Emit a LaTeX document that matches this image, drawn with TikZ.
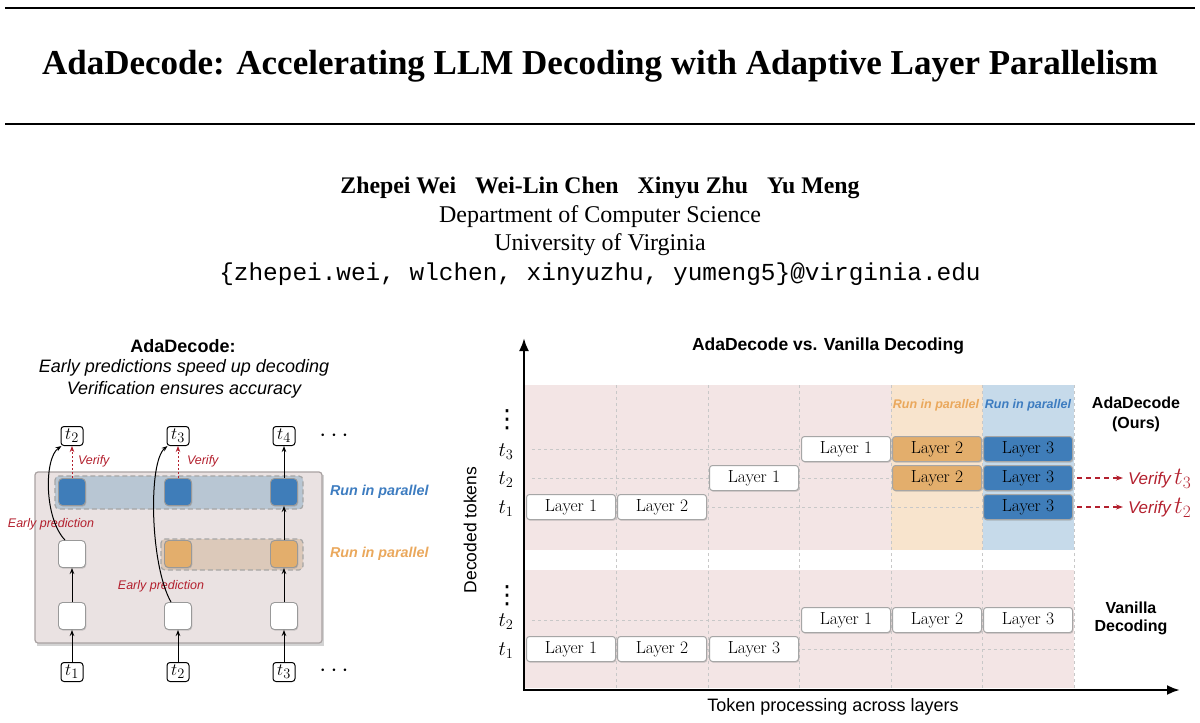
\documentclass[tikz,border=0pt]{standalone}
\usepackage{fontspec}
\newfontfamily\tnr{Liberation Serif}
\newfontfamily\arial{Liberation Sans}
\newfontfamily\cour{Liberation Mono}
\newfontfamily\djv{DejaVu Sans}
\usetikzlibrary{arrows.meta,shadows,calc}
\definecolor{pinkbg}{HTML}{F3E5E5}
\definecolor{orangebg}{HTML}{F8E4CD}
\definecolor{bluebg}{HTML}{C6DAEA}
\definecolor{bluebox}{HTML}{3F7DB9}
\definecolor{orangebox}{HTML}{E3AE6C}
\definecolor{redtxt}{HTML}{B3202E}
\definecolor{bluetxt}{HTML}{3D7CC0}
\definecolor{orangetxt}{HTML}{EAA85C}
\definecolor{panelbg}{HTML}{EAE2E2}
\definecolor{panelbd}{HTML}{A9A2A2}
\definecolor{blueband}{HTML}{B8C6D3}
\definecolor{orangeband}{HTML}{DCC9BA}
\definecolor{gridc}{HTML}{C8C8C8}
\newcommand{\fsz}[1]{\fontsize{#1}{#1}\selectfont}
\tikzset{
  txt/.style={inner sep=0pt, outer sep=0pt},
  tok/.style={draw=black, line width=1pt, rounded corners=3pt, fill=white, minimum width=22pt, minimum height=19pt, inner sep=0.5pt, font=\fsz{19}},
  sq/.style={draw=gray!80, line width=0.9pt, rounded corners=4pt, fill=white, minimum size=27pt, inner sep=0pt, drop shadow={shadow xshift=0.8pt, shadow yshift=-1.2pt, opacity=0.35, fill=gray}},
  lay/.style={draw=gray!70, line width=1pt, rounded corners=3pt, fill=white, minimum width=89pt, minimum height=25pt, inner sep=0pt, font=\fsz{17.5}, drop shadow={shadow xshift=0.8pt, shadow yshift=-1.2pt, opacity=0.35, fill=gray}},
  arr/.style={line width=1pt, -{Stealth[length=6pt,width=4.5pt]}},
  varr/.style={line width=1pt, redtxt, dash pattern=on 2pt off 2pt, -{Stealth[length=6pt,width=4.5pt]}},
  gridline/.style={draw=gridc, line width=0.9pt, dash pattern=on 2.5pt off 3.5pt},
  axis/.style={line width=2.5pt, -{Latex[length=13pt,width=10pt]}},
  vd/.style={inner sep=0pt, outer sep=0pt, font=\djv\fsz{25}},
}
\begin{document}
\begin{tikzpicture}[x=1pt,y=-1pt]
\useasboundingbox (0,0) rectangle (1200,723);
% header rules
\draw[line width=2pt] (5,8) -- (1195,8);
\draw[line width=2pt] (5,124) -- (1195,124);
\node[txt, font=\tnr\bfseries\fsz{35}] (title) at (600,66) {AdaDecode: Accelerating LLM Decoding with Adaptive Layer Parallelism};
\node[txt, font=\tnr\bfseries\fsz{23.8}] (authors) at (600,188) {Zhepei Wei\hspace{0.8em}Wei-Lin Chen\hspace{0.8em}Xinyu Zhu\hspace{0.8em}Yu Meng};
\node[txt, font=\tnr\fsz{24}] (dept) at (600,217) {Department of Computer Science};
\node[txt, font=\tnr\fsz{24}] (univ) at (600,245) {University of Virginia};
\node[txt, font=\cour\fsz{24.4}] (email) at (600,274) {\{zhepei.wei, wlchen, xinyuzhu, yumeng5\}@virginia.edu};

% ---------------- left panel ----------------
\node[txt, font=\arial\bfseries\fsz{18}] (lt1) at (183,346) {AdaDecode:};
\node[txt, font=\arial\itshape\fsz{18}] (lt2) at (184,368) {Early predictions speed up decoding};
\node[txt, font=\arial\itshape\fsz{18}] (lt3) at (184,390) {Verification ensures accuracy};

\fill[gray, opacity=0.35] (37,475) rectangle (324,646);
\draw[fill=panelbg, draw=panelbd, line width=1.2pt, rounded corners=3pt] (35,472) rectangle (322,643);
\draw[fill=blueband, draw=gray!70, line width=1.2pt, dash pattern=on 5pt off 3pt, rounded corners=4pt] (55,476) rectangle (303,509);
\draw[fill=orangeband, draw=gray!70, line width=1.2pt, dash pattern=on 5pt off 3pt, rounded corners=4pt] (161,539) rectangle (303,570);

\node[tok] (o1) at (72,436) {$t_2$};
\node[tok] (o2) at (178,436) {$t_3$};
\node[tok] (o3) at (284,436) {$t_4$};
\node[txt, font=\fsz{24}] (od) at (334,436) {$\cdots$};
\node[tok] (i1) at (72,672) {$t_1$};
\node[tok] (i2) at (178,672) {$t_2$};
\node[tok] (i3) at (284,672) {$t_3$};
\node[txt, font=\fsz{24}] (id) at (334,671) {$\cdots$};

\node[sq, fill=bluebox] (b1) at (72,492) {};
\node[sq, fill=bluebox] (b2) at (178,492) {};
\node[sq, fill=bluebox] (b3) at (284,492) {};
\node[sq] (m1) at (72,554) {};
\node[sq, fill=orangebox] (m2) at (178,554) {};
\node[sq, fill=orangebox] (m3) at (284,554) {};
\node[sq] (l1) at (72,616) {};
\node[sq] (l2) at (178,616) {};
\node[sq] (l3) at (284,616) {};

\draw[arr] (i1) -- (l1);
\draw[arr] (l1) -- (m1);
\draw[arr] (i2) -- (l2);
\draw[arr] (i3) -- (l3);
\draw[arr] (l3) -- (m3);
\draw[arr] (m3) -- (b3);
\draw[arr] (b3) -- (o3);
\draw[varr] (b1) -- (o1);
\draw[varr] (b2) -- (o2);

\node[txt, anchor=west, font=\arial\itshape\fsz{12.5}, text=redtxt] (v1) at (78,461) {Verify};
\node[txt, anchor=west, font=\arial\itshape\fsz{12.5}, text=redtxt] (v2) at (187,461) {Verify};
\node[txt, font=\arial\itshape\fsz{12.5}, text=redtxt] (ep1) at (51,524) {Early prediction};
\node[txt, font=\arial\itshape\fsz{12.5}, text=redtxt] (ep2) at (161,586) {Early prediction};

\draw[arr] ([xshift=-7pt]m1.north) .. controls (44,518) and (44,458) .. ([xshift=1pt]o1.south west);
\draw[arr] ([xshift=-7pt]l2.north) .. controls (150,565) and (148,462) .. ([xshift=1pt]o2.south west);

\node[txt, anchor=west, font=\arial\bfseries\itshape\fsz{14.3}, text=bluetxt] (rp1) at (330,492) {Run in parallel};
\node[txt, anchor=west, font=\arial\bfseries\itshape\fsz{14.3}, text=orangetxt] (rp2) at (330,554) {Run in parallel};

% ---------------- right panel ----------------
\node[txt, font=\arial\bfseries\fsz{17.5}] (rt) at (828,346) {AdaDecode vs. Vanilla Decoding};

\fill[pinkbg] (525,385) rectangle (1074,550);
\fill[pinkbg] (525,570) rectangle (1074,688);
\fill[orangebg] (891,385) rectangle (982.5,550);
\fill[bluebg] (982.5,385) rectangle (1074,550);

\foreach \x in {616.5,708,799.5,891,982.5,1074}
  \draw[gridline] (\x,385) -- (\x,688);
\foreach \y in {449,478,507,620,649}
  \draw[gridline] (532,\y) -- (1074,\y);

\node[txt, font=\arial\bfseries\itshape\fsz{12.5}, text=orangetxt] (rp3) at (936,405) {Run in parallel};
\node[txt, font=\arial\bfseries\itshape\fsz{12.5}, text=bluetxt] (rp4) at (1028,405) {Run in parallel};

% AdaDecode rows
\node[lay] (a11) at (571,507) {Layer 1};
\node[lay] (a12) at (662,507) {Layer 2};
\node[lay, fill=bluebox] (a13) at (1028,507) {Layer 3};
\node[lay] (a21) at (754,478) {Layer 1};
\node[lay, fill=orangebox] (a22) at (937,478) {Layer 2};
\node[lay, fill=bluebox] (a23) at (1028,478) {Layer 3};
\node[lay] (a31) at (846,449) {Layer 1};
\node[lay, fill=orangebox] (a32) at (937,449) {Layer 2};
\node[lay, fill=bluebox] (a33) at (1028,449) {Layer 3};
% vanilla rows
\node[lay] (n11) at (571,649) {Layer 1};
\node[lay] (n12) at (662,649) {Layer 2};
\node[lay] (n13) at (754,649) {Layer 3};
\node[lay] (n21) at (846,620) {Layer 1};
\node[lay] (n22) at (937,620) {Layer 2};
\node[lay] (n23) at (1028,620) {Layer 3};

% axes
\coordinate (org) at (524,690);
\coordinate (ytop) at (524,338);
\coordinate (xend) at (1180,690);
\draw[axis] (org) -- (ytop);
\draw[axis] ([xshift=-1.2pt]org) -- (xend);
\node[txt, rotate=90, font=\arial\fsz{17.5}] (ylab) at (470,530) {Decoded tokens};
\node[txt, font=\arial\fsz{18}] (xlab) at (833,707) {Token processing across layers};

% y tick labels
\node[vd] (yd1) at (507,420) {⋮};
\node[txt, font=\fsz{22}] (y3) at (506,452) {$t_3$};
\node[txt, font=\fsz{22}] (y2) at (506,480) {$t_2$};
\node[txt, font=\fsz{22}] (y1) at (506,509) {$t_1$};
\node[vd] (yd2) at (507,596) {⋮};
\node[txt, font=\fsz{22}] (y2b) at (506,622) {$t_2$};
\node[txt, font=\fsz{22}] (y1b) at (506,651) {$t_1$};

\node[txt, font=\arial\bfseries\fsz{16}, align=center] (ada) at (1136,414) {AdaDecode\\[4pt](Ours)};
\node[txt, font=\arial\bfseries\fsz{16}, align=center] (van) at (1131,618) {Vanilla\\[2pt]Decoding};

% verify arrows
\coordinate (vt3) at (1123,478);
\coordinate (vt2) at (1123,507);
\draw[line width=1.2pt, redtxt, dash pattern=on 5pt off 4pt, -{Stealth[length=7pt,width=5pt]}] ([xshift=4pt]a23.east) -- (vt3);
\draw[line width=1.2pt, redtxt, dash pattern=on 5pt off 4pt, -{Stealth[length=7pt,width=5pt]}] ([xshift=4pt]a13.east) -- (vt2);
\node[txt, anchor=west, text=redtxt] (vl3) at (1128,479) {{\arial\itshape\fsz{17}Verify} {\fsz{23}$t_3$}};
\node[txt, anchor=west, text=redtxt] (vl2) at (1128,508) {{\arial\itshape\fsz{17}Verify} {\fsz{23}$t_2$}};
\end{tikzpicture}
\end{document}
